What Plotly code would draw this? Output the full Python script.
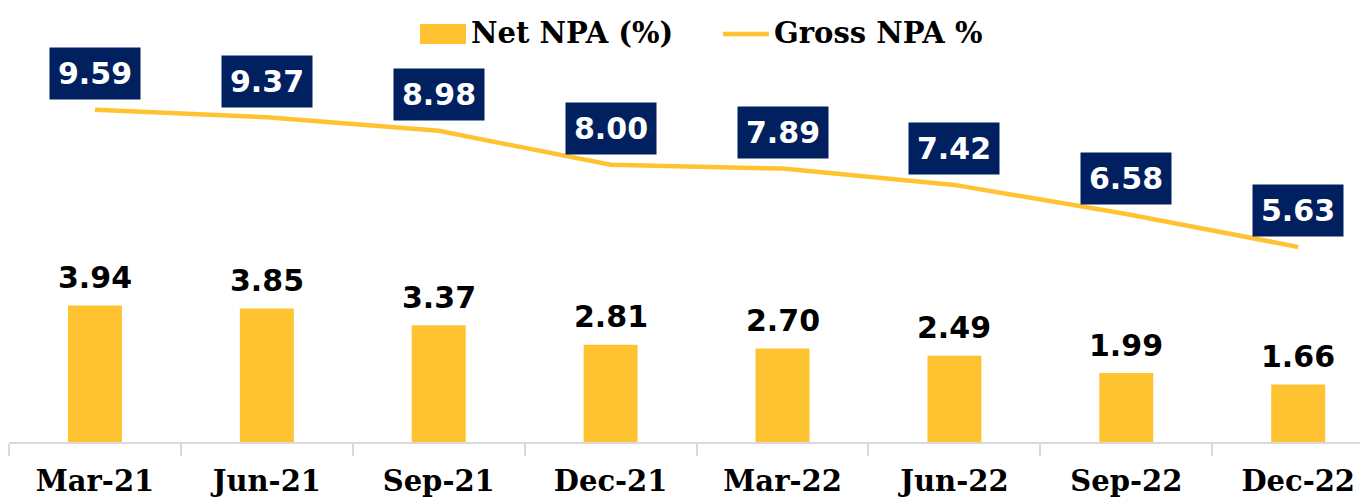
import plotly.graph_objects as go

categories = ["Mar-21", "Jun-21", "Sep-21", "Dec-21", "Mar-22", "Jun-22", "Sep-22", "Dec-22"]
net_npa = [3.94, 3.85, 3.37, 2.81, 2.70, 2.49, 1.99, 1.66]
gross_npa = [9.59, 9.37, 8.98, 8.00, 7.89, 7.42, 6.58, 5.63]
legend_names = ["Net NPA (%)", "Gross NPA %"]

YELLOW = "#FFC332"
NAVY = "#002060"
SERIF = "DejaVu Serif"
SANS = "DejaVu Sans"

W, H = 1368, 502
OFF = 8  # page body margin offset
ML, MR, MT, MB = 9 - OFF, OFF, 40 - OFF, H - (442 - OFF)

fig = go.Figure()
fig.add_trace(go.Bar(
    x=categories, y=net_npa, name=legend_names[0],
    marker=dict(color=YELLOW, line=dict(width=0)), width=0.314,
))
fig.add_trace(go.Scatter(
    x=categories, y=gross_npa, name=legend_names[1], mode="lines",
    line=dict(color=YELLOW, width=4.5),
))

annotations = []
for c, v in zip(categories, net_npa):
    annotations.append(dict(
        x=c, y=v, xref="x", yref="y", text=f"<b>{v:.2f}</b>", showarrow=False,
        yanchor="middle", yshift=28,
        font=dict(family=SANS, size=30, color="#000000"),
    ))
for c, v in zip(categories, gross_npa):
    annotations.append(dict(
        x=c, y=v, xref="x", yref="y", text=f"<b>{v:.2f}</b>", showarrow=False,
        yanchor="middle", yshift=36, bgcolor=NAVY, borderpad=8,
        font=dict(family=SANS, size=30, color="#FFFFFF"),
    ))

# custom legend (page pixel -> paper conversion)
pw = W - ML - MR
ph = H - MT - MB
def px(xp):
    return (xp - OFF - ML) / pw
def py(yp):
    return (H - MB - (yp - OFF)) / ph

shapes = [
    dict(type="rect", xref="paper", yref="paper", x0=px(420), x1=px(466), y0=py(44), y1=py(24),
         fillcolor=YELLOW, line=dict(width=0)),
    dict(type="line", xref="paper", yref="paper", x0=px(723), x1=px(769), y0=py(34), y1=py(34),
         line=dict(color=YELLOW, width=4.5)),
]
annotations.append(dict(xref="paper", yref="paper", x=px(469), y=py(33), xanchor="left", yanchor="middle",
                        text=f"<b>{legend_names[0]}</b>", showarrow=False,
                        font=dict(family=SERIF, size=29, color="#000000")))
annotations.append(dict(xref="paper", yref="paper", x=px(772), y=py(33), xanchor="left", yanchor="middle",
                        text=f"<b>{legend_names[1]}</b>", showarrow=False,
                        font=dict(family=SERIF, size=29, color="#000000")))

fig.update_layout(
    width=W, height=H,
    margin=dict(l=ML, r=MR, t=MT, b=MB, autoexpand=False),
    plot_bgcolor="white", paper_bgcolor="white",
    showlegend=False,
    annotations=annotations,
    shapes=shapes,
    xaxis=dict(
        type="category", range=[-0.5, 7.406], automargin=False,
        showline=True, linecolor="#D9D9D9", linewidth=2,
        ticks="outside", tickson="boundaries", ticklen=12, tickcolor="#D9D9D9", tickwidth=2,
        tickfont=dict(family=SERIF, size=29, color="#000000"),
        ticklabelstandoff=12,
        showgrid=False,
        tickprefix="<b>", ticksuffix="</b>",
    ),
    yaxis=dict(range=[0, ph / 34.65], visible=False, showgrid=False, automargin=False),
    bargap=0.686,
)

fig.write_html("out.html")
